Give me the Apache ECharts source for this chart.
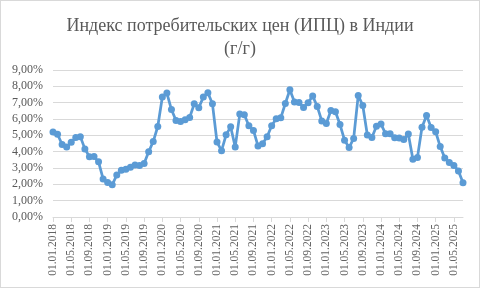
<!DOCTYPE html>
<html><head><meta charset="utf-8">
<script src="https://cdn.jsdelivr.net/npm/echarts@6/dist/echarts.min.js"></script>
<style>html,body{margin:0;padding:0;background:#fff}#c{width:480px;height:288px;box-sizing:border-box;border:1px solid #d9d9d9}</style>
</head><body><div id="c"></div>
<script>
const titleText = 'Индекс потребительских цен (ИПЦ) в Индии\n(г/г)';
const years = [2018,2019,2020,2021,2022,2023,2024,2025];
const categories = [];
for (const y of years) for (let m = 1; m <= 12; m++) {
  if (y === 2025 && m > 7) break;
  categories.push('01.' + String(m).padStart(2,'0') + '.' + y);
}
const cpiValues = [
  5.21, 5.07, 4.44, 4.28, 4.58, 4.87, 4.92, 4.17, 3.69, 3.70, 3.38, 2.33, 2.11,
  1.97, 2.57, 2.86, 2.92, 3.05, 3.18, 3.15, 3.28, 3.99, 4.62, 5.54, 7.35,
  7.59, 6.58, 5.91, 5.84, 5.95, 6.09, 6.93, 6.69, 7.34, 7.61, 6.93,
  4.59, 4.06, 5.03, 5.52, 4.29, 6.30, 6.26, 5.59, 5.30, 4.35, 4.48, 4.91, 5.59,
  6.01, 6.07, 6.95, 7.79, 7.04, 7.01, 6.71, 7.00, 7.41, 6.77, 5.88, 5.72,
  6.52, 6.44, 5.66, 4.70, 4.25, 4.81, 7.44, 6.83, 5.02, 4.87, 5.55, 5.69,
  5.10, 5.09, 4.85, 4.83, 4.75, 5.08, 3.54, 3.65, 5.49, 6.21, 5.48, 5.22,
  4.31, 3.61, 3.34, 3.16, 2.82, 2.10
];
const yMin = 0, yMax = 9, yStep = 1;
const chart = echarts.init(document.getElementById('c'), null, {renderer:'canvas'});
chart.setOption({
  animation: false,
  title: {
    text: titleText, left: 'center', top: 9,
    textStyle: {fontFamily: 'Liberation Serif', fontSize: 18, fontWeight: 'normal', color: '#595959', lineHeight: 23}
  },
  grid: {left: 52, right: 16, top: 69, bottom: 70, containLabel: false},
  xAxis: {
    type: 'category', data: categories, boundaryGap: false,
    axisLine: {lineStyle: {color: '#d9d9d9', width: 1}},
    axisTick: {show: true, interval: 3, length: 5, lineStyle: {color: '#d9d9d9'}},
    axisLabel: {interval: 3, rotate: 90, color: '#636363', fontFamily: 'Liberation Serif', fontSize: 11.5, margin: 7},
    splitLine: {show: false}
  },
  yAxis: {
    type: 'value', min: yMin, max: yMax, interval: yStep,
    axisLine: {show: false}, axisTick: {show: false},
    axisLabel: {color: '#595959', fontFamily: 'Liberation Serif', fontSize: 12, margin: 10,
      formatter: v => v.toFixed(2).replace('.', ',') + '%'},
    splitLine: {lineStyle: {color: '#d9d9d9', width: 1}}
  },
  series: [{
    type: 'line', data: cpiValues,
    lineStyle: {color: '#5b9bd5', width: 2.75},
    itemStyle: {color: '#5b9bd5'},
    symbol: 'circle', symbolSize: 7, showAllSymbol: true
  }]
});
</script></body></html>
